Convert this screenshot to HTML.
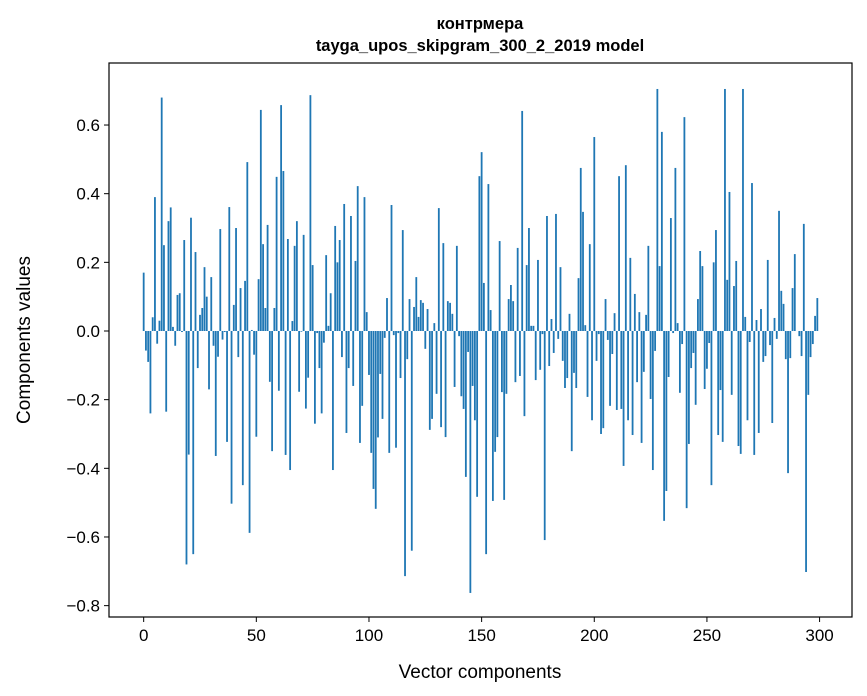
<!DOCTYPE html>
<html><head><meta charset="utf-8"><style>
html,body{margin:0;padding:0;background:#fff;}
svg{display:block;font-family:"Liberation Sans","DejaVu Sans",sans-serif;}
</style></head><body>
<svg id="chart" width="867" height="696" viewBox="0 0 867 696" xmlns="http://www.w3.org/2000/svg">
<text x="480" y="29" text-anchor="middle" font-size="16.5" font-weight="bold">контрмера</text>
<text x="480" y="51" text-anchor="middle" font-size="16.5" font-weight="bold">tayga_upos_skipgram_300_2_2019 model</text>
<g id="bars"></g>
<rect x="109" y="63" width="743" height="554" fill="none" stroke="#000" stroke-width="1.2"/>
<g id="xticks"></g>
<g id="yticks"></g>
<text x="480" y="678" text-anchor="middle" font-size="19">Vector components</text>
<text transform="translate(30,340) rotate(-90)" text-anchor="middle" font-size="19">Components values</text>
</svg>
<script>
const values = [0.17,-0.057,-0.09,-0.24,0.04,0.39,-0.037,0.03,0.68,0.25,-0.235,0.32,0.36,0.012,-0.043,0.105,0.11,-0.003,0.265,-0.68,
-0.36,0.33,-0.65,0.23,-0.108,0.047,0.067,0.186,0.10,-0.17,0.157,-0.043,-0.364,-0.075,0.297,-0.025,-0.003,-0.323,0.361,-0.503,
0.076,0.30,-0.076,0.125,-0.449,0.146,0.492,-0.588,0.003,-0.069,-0.308,0.151,0.644,0.253,0.067,0.309,-0.148,-0.35,0.067,0.449,
-0.174,0.658,0.466,-0.361,0.268,-0.405,0.029,0.248,0.32,-0.177,-0.002,0.28,-0.226,-0.136,0.687,0.192,-0.27,-0.006,-0.108,-0.24,
-0.034,0.221,0.015,0.11,-0.405,0.306,0.20,0.265,-0.076,0.37,-0.297,-0.108,0.335,-0.16,0.204,0.422,-0.326,-0.218,0.39,0.055,
-0.128,-0.355,-0.46,-0.518,-0.31,-0.125,-0.256,-0.02,0.096,-0.355,0.367,-0.012,-0.34,-0.006,-0.137,0.294,-0.714,-0.082,0.093,-0.64,
0.07,0.157,0.041,0.09,0.082,-0.052,0.064,-0.288,-0.256,0.023,-0.183,0.358,-0.28,0.256,-0.309,0.087,0.082,0.05,-0.163,0.248,
-0.015,-0.19,-0.227,-0.425,-0.061,-0.763,-0.16,-0.26,-0.483,0.451,0.521,0.14,-0.65,0.428,0.061,-0.495,-0.352,-0.309,0.262,-0.178,
-0.492,-0.183,0.093,0.134,0.087,-0.149,0.242,-0.131,0.641,-0.248,0.192,0.30,0.015,0.015,-0.143,0.207,-0.113,-0.009,-0.609,0.335,
-0.102,0.035,-0.064,0.341,-0.023,0.186,-0.087,-0.166,-0.137,0.05,-0.35,-0.122,-0.166,0.154,0.475,0.347,0.017,-0.192,0.253,-0.26,
0.565,-0.087,-0.009,-0.30,-0.283,0.093,-0.026,-0.218,-0.067,0.052,-0.23,0.451,-0.227,-0.393,0.483,-0.26,0.213,-0.303,0.108,-0.149,
0.055,-0.326,-0.119,0.047,0.248,-0.198,-0.405,-0.058,0.705,0.189,0.58,-0.553,-0.466,-0.134,0.329,-0.006,0.475,0.023,-0.18,-0.038,
0.623,-0.516,-0.329,-0.108,-0.064,-0.215,0.093,0.233,0.189,-0.169,-0.11,-0.035,-0.449,0.20,0.294,-0.303,-0.172,-0.323,0.705,0.149,
0.405,-0.186,0.131,0.204,-0.335,-0.358,0.705,0.041,-0.26,-0.032,0.431,-0.361,0.032,-0.297,0.064,-0.09,-0.073,0.207,-0.041,-0.268,
0.038,-0.023,0.35,0.117,0.079,-0.082,-0.414,-0.079,0.125,0.224,0,-0.015,-0.073,0.312,-0.702,-0.186,-0.076,-0.038,0.044,0.096];
const xTickValues = [0,50,100,150,200,250,300];
const yTickValues = [0.6,0.4,0.2,0.0,-0.2,-0.4,-0.6,-0.8];
const yTickLabels = ["0.6","0.4","0.2","0.0","\u22120.2","\u22120.4","\u22120.6","\u22120.8"];

const NS = "http://www.w3.org/2000/svg";
const L = 109, R = 852, T = 63, B = 617;
const xMin = -15.39, xMax = 314.39;
function xScale(v){ return L + (v - xMin) / (xMax - xMin) * (R - L); }
function yScale(v){ return 331 - v * 343.3; }

const barsG = document.getElementById('bars');
const bw = xScale(0.8) - xScale(0);
values.forEach((v, i) => {
  const r = document.createElementNS(NS, 'rect');
  
  
  const y0 = yScale(0), y1 = yScale(v);
  r.setAttribute('x', xScale(i - 0.4));
  r.setAttribute('width', bw);
  r.setAttribute('y', Math.min(y0, y1));
  r.setAttribute('height', Math.abs(y1 - y0));
  r.setAttribute('fill', '#1f77b4');
  barsG.appendChild(r);
});

const xg = document.getElementById('xticks');
xTickValues.forEach(t => {
  const x = xScale(t);
  const ln = document.createElementNS(NS, 'line');
  
  
  ln.setAttribute('x1', x); ln.setAttribute('x2', x);
  ln.setAttribute('y1', B); ln.setAttribute('y2', B + 5);
  ln.setAttribute('stroke', '#000');
  xg.appendChild(ln);
  const tx = document.createElementNS(NS, 'text');
  
  
  tx.setAttribute('x', x); tx.setAttribute('y', B + 24);
  tx.setAttribute('text-anchor', 'middle');
  tx.setAttribute('font-size', '17');
  tx.textContent = String(t);
  xg.appendChild(tx);
});

const yg = document.getElementById('yticks');
yTickValues.forEach((t, i) => {
  const y = yScale(t);
  const ln = document.createElementNS(NS, 'line');
  
  
  ln.setAttribute('x1', L - 5); ln.setAttribute('x2', L);
  ln.setAttribute('y1', y); ln.setAttribute('y2', y);
  ln.setAttribute('stroke', '#000');
  yg.appendChild(ln);
  const tx = document.createElementNS(NS, 'text');
  
  
  tx.setAttribute('x', L - 9); tx.setAttribute('y', y + 6);
  tx.setAttribute('text-anchor', 'end');
  tx.setAttribute('font-size', '17');
  tx.textContent = yTickLabels[i];
  yg.appendChild(tx);
});
</script>
</body></html>
